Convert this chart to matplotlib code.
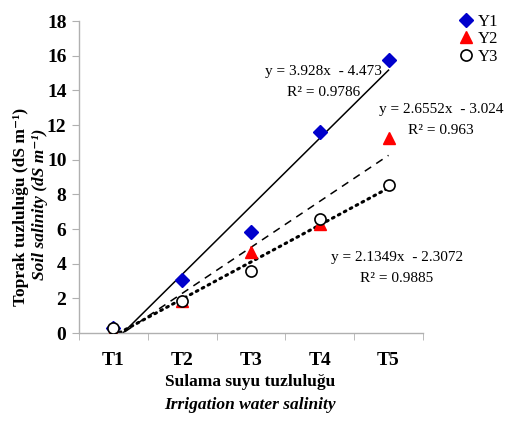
import matplotlib

matplotlib.use("Agg")
import matplotlib.pyplot as plt
import numpy as np

plt.rcParams["font.family"] = ["Liberation Serif", "DejaVu Serif"]

categories = ["T1", "T2", "T3", "T4", "T5"]
y1 = [0.30, 3.06, 5.85, 11.60, 15.75]
y2 = [0.08, 1.85, 4.70, 6.30, 11.25]
y3 = [0.28, 1.87, 3.58, 6.58, 8.54]
# trendline coefficients as printed on the chart
slopes = [3.928, 2.6552, 2.1349]
intercepts = [-4.473, -3.024, -2.3072]
r2 = ["0.9786", "0.963", "0.9885"]
eq_text = ["y = 3.928x  - 4.473", "y = 2.6552x  - 3.024", "y = 2.1349x  - 2.3072"]

AX_COL = "#b0b0b0"

fig = plt.figure(figsize=(5.08, 4.21), dpi=100)
ax = fig.add_axes([0.1555, 0.209, 0.677, 0.741])

x = np.arange(1, len(categories) + 1)

# trendlines (Excel linear trendline over 1..5, clipped at y=0 by the axis)
xx = np.linspace(1, 5, 200)
styles = [dict(ls="-", lw=1.1), dict(ls=(0, (5, 4)), lw=1.1), dict(ls=(0, (0.6, 1.6)), lw=2.2, dash_capstyle="round")]
for m, b, st in zip(slopes, intercepts, styles):
    ax.plot(xx, m * xx + b, color="black", zorder=2, **st)

ax.plot(x, y1, ls="none", marker="D", ms=7.5, color="#0000cc", label="Y1", zorder=3)
ax.plot(x, y2, ls="none", marker="^", ms=8.5, color="#ff0000", label="Y2", zorder=4)
ax.plot(x, y3, ls="none", marker="o", ms=8, mfc="white", mec="black", mew=1.2, label="Y3", zorder=5)

ax.set_xlim(0.5, 5.5)
ax.set_ylim(0, 18)
ax.set_yticks(range(0, 19, 2))
ax.set_xticks(x)
ax.set_xticklabels(categories)
ax.set_xticks(np.arange(0.5, 5.6, 1), minor=True)
ax.tick_params(axis="x", which="major", length=0, pad=14, labelsize=14)
ax.tick_params(axis="x", which="minor", length=5, color=AX_COL, direction="out")
ax.tick_params(axis="y", length=5, color=AX_COL, direction="out", labelsize=14, pad=4)
for lab in ax.get_xticklabels() + ax.get_yticklabels():
    lab.set_fontweight("bold")

for side in ["top", "right"]:
    ax.spines[side].set_visible(False)
for side in ["left", "bottom"]:
    ax.spines[side].set_color(AX_COL)
    ax.spines[side].set_linewidth(1.0)

# equation labels
eq_pos = [(323.5, 71), (441, 110), (397, 257)]
for (px, py), eq, r in zip(eq_pos, eq_text, r2):
    fig.text(px / 508, 1 - py / 421, eq, ha="center", va="center", fontsize=11)
    fig.text(px / 508, 1 - (py + 21) / 421, "R² = " + r, ha="center", va="center", fontsize=11)

# axis titles
fig.text(21 / 508, 1 - 207 / 421, "Toprak tuzluluğu (dS m⁻¹)", rotation=90,
         ha="center", va="center", fontsize=12.5, fontweight="bold")
fig.text(40 / 508, 1 - 204 / 421, "Soil salinity (dS m⁻¹)", rotation=90,
         ha="center", va="center", fontsize=12.5, fontweight="bold", fontstyle="italic")
fig.text(250 / 508, 1 - 382 / 421, "Sulama suyu tuzluluğu", ha="center", va="center",
         fontsize=12.5, fontweight="bold")
fig.text(250 / 508, 1 - 405 / 421, "Irrigation water salinity", ha="center", va="center",
         fontsize=12.5, fontweight="bold", fontstyle="italic")

fig.legend(loc="upper left", bbox_to_anchor=(448 / 508, 1 - 2 / 421), frameon=False,
           fontsize=12, handlelength=0.8, handletextpad=0.3, labelspacing=0.1, borderpad=0.2)

fig.savefig("out.png", dpi=100)
